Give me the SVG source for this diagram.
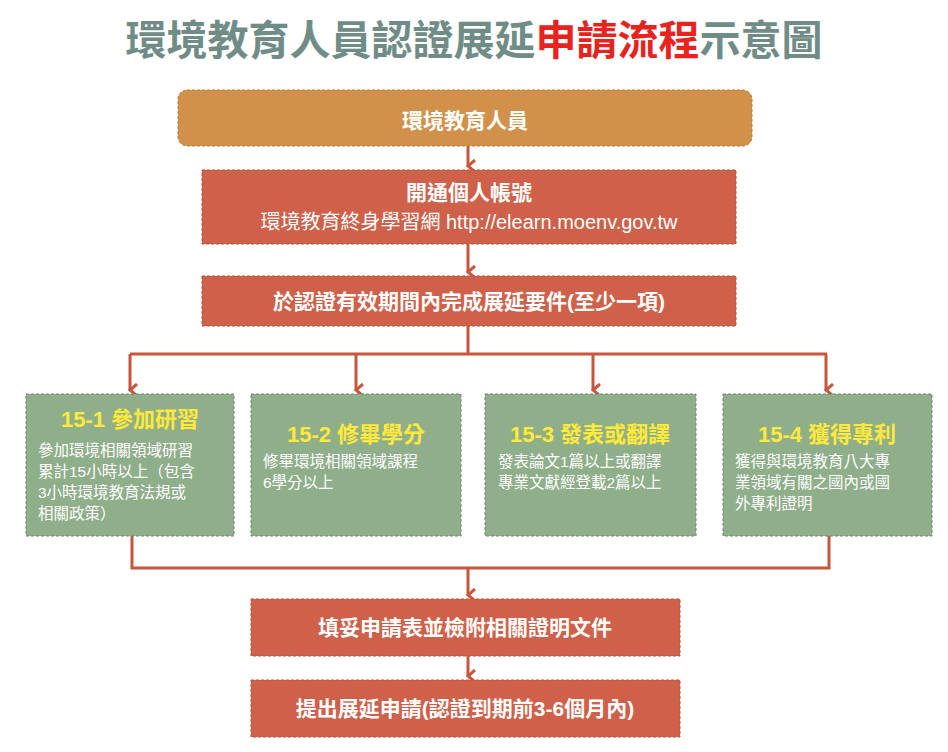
<svg xmlns="http://www.w3.org/2000/svg" width="948" height="752" viewBox="0 0 948 752">
<style>
text{font-family:"Liberation Sans","Noto Sans CJK TC",sans-serif}
.r{fill:#CF6049;stroke:#B8533E;stroke-dasharray:3 2;stroke-width:1}
.g{fill:#8FAE8A;stroke:#6F8A6C;stroke-dasharray:3 2;stroke-width:1}
.w{fill:#fff;text-anchor:middle;font-weight:bold;font-size:21px}
.y{fill:#FFE93A;text-anchor:middle;font-weight:bold;font-size:22px}
.s{fill:#fff;font-size:15.5px}
.c{fill:none;stroke:#C9553D;stroke-width:3}
</style>
<defs><marker id="a" markerWidth="6" markerHeight="6" refX="3" refY="4" orient="auto" markerUnits="userSpaceOnUse" viewBox="0 0 6 6"><path d="M0,0 L3,4 L6,0" fill="none" stroke="#C9553D" stroke-width="2"/></marker>
<marker id="b" markerWidth="14" markerHeight="10" refX="7" refY="8" orient="auto-start-reverse" markerUnits="userSpaceOnUse" viewBox="0 0 14 10"><path d="M1,1 L7,8 L13,1" fill="none" stroke="#C9553D" stroke-width="3"/></marker></defs>
<rect width="948" height="752" fill="#fff"/>
<text x="474" y="55" text-anchor="middle" font-size="41" font-weight="bold" fill="#6F8D86">環境教育人員認證展延<tspan fill="#E8231E">申請流程</tspan>示意圖</text>
<g id="connectors">
<path class="c" d="M468,146 V166" marker-end="url(#b)"/>
<path class="c" d="M468,244 V272" marker-end="url(#b)"/>
<path class="c" d="M468,326 V354 M130,354 H827"/>
<path class="c" d="M130,354 V390" marker-end="url(#b)"/>
<path class="c" d="M356,354 V390" marker-end="url(#b)"/>
<path class="c" d="M593,354 V390" marker-end="url(#b)"/>
<path class="c" d="M826,354 V390" marker-end="url(#b)"/>
<path class="c" d="M132,536 V568 H829 V536"/>
<path class="c" d="M468,568 V595" marker-end="url(#b)"/>
<path class="c" d="M468,656 V676" marker-end="url(#b)"/>
</g>
<g id="n0"><rect x="178" y="90" width="574" height="56" rx="9" fill="#D1914A" stroke="#B97A38" stroke-dasharray="3 2"/><text class="w" x="465" y="128" font-size="27">環境教育人員</text></g>
<g id="n1"><rect class="r" x="202" y="170" width="534" height="74"/><text class="w" x="469" y="200">開通個人帳號</text><text x="469" y="229" fill="#fff" font-size="20" text-anchor="middle">環境教育終身學習網 http://elearn.moenv.gov.tw</text></g>
<g id="n2"><rect class="r" x="202" y="276" width="534" height="50"/><text class="w" x="469" y="309">於認證有效期間內完成展延要件(至少一項)</text></g>
<g id="n3"><rect class="g" x="26" y="394" width="208" height="142"/><text class="y" x="130" y="427">15-1 參加研習</text>
<text class="s" x="38" y="456">參加環境相關領域研習</text><text class="s" x="38" y="477">累計15小時以上（包含</text><text class="s" x="38" y="498">3小時環境教育法規或</text><text class="s" x="38" y="519">相關政策）</text></g>
<g id="n4"><rect class="g" x="251" y="394" width="210" height="142"/><text class="y" x="356" y="442">15-2 修畢學分</text>
<text class="s" x="263" y="467">修畢環境相關領域課程</text><text class="s" x="263" y="488">6學分以上</text></g>
<g id="n5"><rect class="g" x="485" y="394" width="211" height="142"/><text class="y" x="590" y="442">15-3 發表或翻譯</text>
<text class="s" x="498" y="467">發表論文1篇以上或翻譯</text><text class="s" x="498" y="488">專業文獻經登載2篇以上</text></g>
<g id="n6"><rect class="g" x="723" y="394" width="209" height="142"/><text class="y" x="827" y="442">15-4 獲得專利</text>
<text class="s" x="735" y="467">獲得與環境教育八大專</text><text class="s" x="735" y="488">業領域有關之國內或國</text><text class="s" x="735" y="509">外專利證明</text></g>
<g id="n7"><rect class="r" x="251" y="599" width="429" height="57"/><text class="w" x="465" y="635">填妥申請表並檢附相關證明文件</text></g>
<g id="n8"><rect class="r" x="251" y="680" width="429" height="57"/><text class="w" x="465" y="716">提出展延申請(認證到期前3-6個月內)</text></g>
</svg>
